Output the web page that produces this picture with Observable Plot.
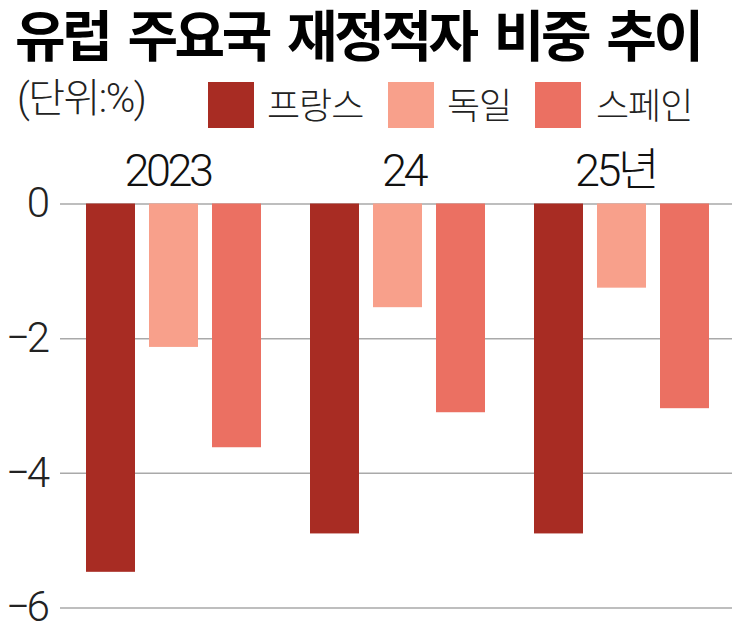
<!DOCTYPE html>
<html lang="ko"><head><meta charset="utf-8">
<script src="https://cdn.jsdelivr.net/npm/d3@7"></script>
<script src="https://cdn.jsdelivr.net/npm/@observablehq/plot@0.6"></script>
<style>
html,body{margin:0;padding:0;background:#fff;overflow:hidden}
#head{position:relative;width:732px;height:140px;font-family:"Noto Sans CJK KR",sans-serif;color:#111}
#title{position:absolute;left:15px;top:0;font-size:55px;font-weight:700;line-height:64px;letter-spacing:-3.4px;word-spacing:6px;white-space:nowrap;color:#000}
#unit{position:absolute;left:17px;top:76px;font-family:Roboto,"Noto Sans CJK KR",sans-serif;font-weight:300;font-size:40px;line-height:46px;letter-spacing:-1.5px;color:#222;white-space:nowrap}
.sw{position:absolute;top:82px;width:46px;height:46px}
.lb{position:absolute;top:79px;font-size:36px;font-weight:300;line-height:48px;letter-spacing:-1px;color:#222;white-space:nowrap}
svg text{font-family:Roboto,"Noto Sans CJK KR",sans-serif;font-weight:300;letter-spacing:-3.5px}
</style></head><body>
<div id="head"><div id="title"></div><div id="unit"></div></div>
<div id="chart"></div>
<script>
const titleText = "유럽 주요국 재정적자 비중 추이";
const unitText = "(단위:%)";
const years = ["2023", "24", "25년"];
const countries = ["프랑스", "독일", "스페인"];
const colors = ["#a82c23", "#f8a08b", "#eb7062"];
const france = [-5.47, -4.9, -4.9];
const germany = [-2.13, -1.54, -1.25];
const spain = [-3.62, -3.1, -3.04];
const yTicks = [0, -2, -4, -6];
const legendSwatchX = [208, 388, 535];
const legendLabelX = [267, 447, 596];

document.getElementById("title").textContent = titleText;
document.getElementById("unit").textContent = unitText;
const head = document.getElementById("head");
countries.forEach((c, i) => {
  const s = document.createElement("div"); s.className = "sw";
  s.style.left = legendSwatchX[i] + "px"; s.style.background = colors[i]; head.appendChild(s);
  const l = document.createElement("div"); l.className = "lb";
  l.style.left = legendLabelX[i] + "px"; l.textContent = c; head.appendChild(l);
});

const series = [france, germany, spain];
const rows = years.flatMap((yr, j) => countries.map((c, i) => ({year: yr, country: c, value: series[i][j]})));
const axisFxOptions = {anchor: "top", tickSize: 0, tickPadding: 0, fontSize: 45, fill: "#111", label: null, dy: -18};

const plot = Plot.plot({
  width: 732, height: 490,
  marginLeft: 60, marginRight: 0, marginTop: 63.5, marginBottom: 22.5,
  style: {background: "#fff", overflow: "visible"},
  fx: {domain: years, padding: 0, label: null, axis: null},
  x: {domain: countries, paddingInner: 0.22, paddingOuter: 0.385, align: 0.54, axis: null, label: null},
  y: {domain: [-6, 0], label: null, axis: null},
  color: {domain: countries, range: colors},
  marks: [
    Plot.ruleY(yTicks, {stroke: "#a9a9a9", strokeWidth: 1.5}),
    Plot.barY(rows, {fx: "year", x: "country", y1: 0, y2: "value", fill: "country"}),
    Plot.axisY(yTicks, {anchor: "left", tickSize: 0, tickPadding: 0, fontSize: 42, fill: "#222", label: null,
      tickFormat: d => d === 0 ? "0" : "\u2212" + Math.abs(d), dx: -14, dy: 0}),
    Plot.axisFx({...axisFxOptions, ticks: ["2023", "25년"], dx: -5}),
    Plot.axisFx({...axisFxOptions, ticks: ["24"], dx: 7})
  ]
});
document.getElementById("chart").appendChild(plot);
</script>
</body></html>
